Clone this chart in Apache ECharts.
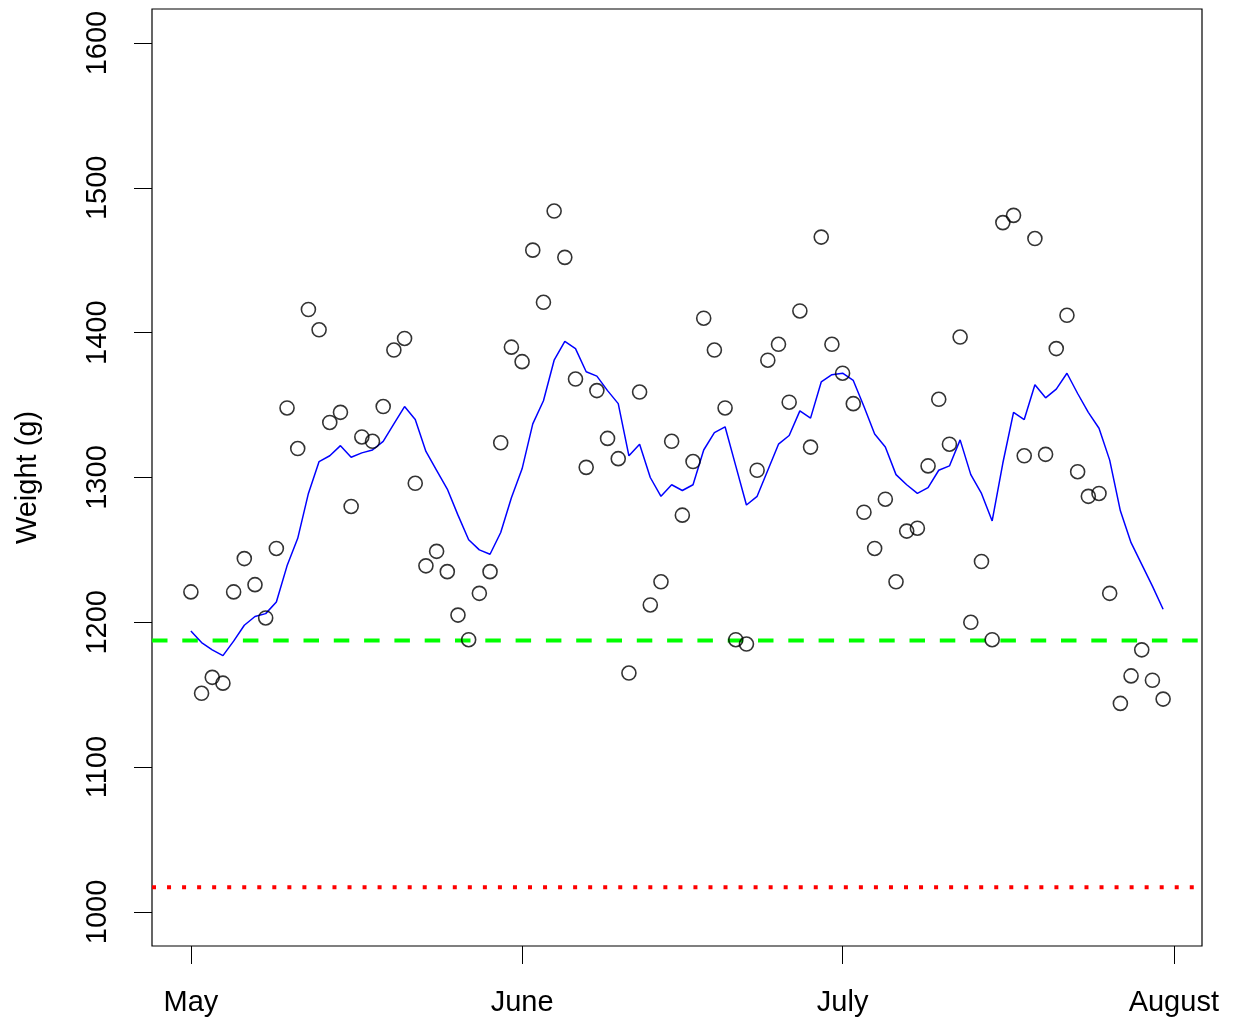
<!DOCTYPE html>
<html>
<head>
<meta charset="utf-8">
<script src="https://cdn.jsdelivr.net/npm/echarts@6/dist/echarts.min.js"></script>
<style>
html,body{margin:0;padding:0;background:#fff;}
#chart{width:1234px;height:1023px;}
</style>
</head>
<body>
<div id="chart"></div>
<script>
// Daily weights, 1 May (day 0) to 31 July (day 91)
const weights = [1221,1151,1162,1158,1221,1244,1226,1203,1251,1348,
  1320,1416,1402,1338,1345,1280,1328,1325,1349,1388,
  1396,1296,1239,1249,1235,1205,1188,1220,1235,1324,
  1390,1380,1457,1421,1484,1452,1368,1307,1360,1327,
  1313,1165,1359,1212,1228,1325,1274,1311,1410,1388,
  1348,1188,1185,1305,1381,1392,1352,1415,1321,1466,
  1392,1372,1351,1276,1251,1285,1228,1263,1265,1308,
  1354,1323,1397,1200,1242,1188,1476,1481,1315,1465,
  1316,1389,1412,1304,1287,1289,1220,1144,1163,1181,
  1160,1147];
// Smoothed (moving average) line
const smooth = [1194,1186,1181,1177,1187,1198,1204,1206,1214,1239,
  1258,1289,1311,1315,1322,1314,1317,1319,1325,1337,
  1349,1340,1318,1305,1292,1274,1257,1250,1247,1262,
  1286,1306,1337,1353,1381,1394,1389,1373,1370,1360,
  1351,1315,1323,1300,1287,1295,1291,1295,1319,1331,
  1335,1308,1281,1287,1305,1323,1329,1346,1341,1366,
  1371,1372,1367,1349,1330,1321,1302,1295,1289,1293,
  1305,1308,1326,1302,1289,1270,1310,1345,1340,1364,
  1355,1361,1372,1358,1345,1334,1312,1277,1255,1240,
  1225,1209];
const greenLevel = 1187.5;
const redLevel = 1017;
const monthTicks = [0, 31, 61, 92];
const monthLabels = ['May', 'June', 'July', 'August'];
const yTicks = [1000, 1100, 1200, 1300, 1400, 1500, 1600];

const pts = weights.map((w, i) => [i, w]);
const sm = smooth.map((w, i) => [i, w]);
const xMin = -3.64, xMax = 94.64;

const chart = echarts.init(document.getElementById('chart'), null, {renderer: 'canvas'});
const font = 'Liberation Sans, Arial, sans-serif';
chart.setOption({
  animation: false,
  backgroundColor: '#fff',
  grid: {left: 152, top: 9, width: 1050, height: 937, show: true,
         borderColor: '#000', borderWidth: 1.2, backgroundColor: 'transparent'},
  xAxis: {
    type: 'value', min: xMin, max: xMax,
    axisLine: {show: false, onZero: false},
    splitLine: {show: false},
    axisTick: {show: true, length: 18, customValues: monthTicks, lineStyle: {color: '#000', width: 1}},
    axisLabel: {customValues: monthTicks, margin: 42, fontSize: 29, fontFamily: font, color: '#000',
      formatter: v => monthLabels[monthTicks.indexOf(v)]}
  },
  yAxis: {
    type: 'value', min: 976.5, max: 1623.5,
    name: 'Weight (g)', nameLocation: 'middle', nameRotate: 90, nameGap: 110,
    nameMoveOverlap: false,
    nameTextStyle: {fontSize: 29, fontFamily: font, color: '#000'},
    axisLine: {show: false, onZero: false},
    splitLine: {show: false},
    axisTick: {show: true, length: 18, customValues: yTicks, lineStyle: {color: '#000', width: 1}},
    axisLabel: {customValues: yTicks, rotate: 90, margin: 40, fontSize: 29, fontFamily: font, color: '#000',
      formatter: v => String(v)}
  },
  series: [
    {
      type: 'line', data: [[xMin, greenLevel], [xMax, greenLevel]], symbol: 'none', z: 1,
      lineStyle: {color: '#00FF00', width: 4, type: [15.5, 14.8], cap: 'butt'}
    },
    {
      type: 'line', data: [[xMin, redLevel], [xMax, redLevel]], symbol: 'none', z: 1,
      lineStyle: {color: '#FF0000', width: 4, type: [4, 11.04], cap: 'butt'}
    },
    {
      type: 'line', data: sm, symbol: 'none', z: 2,
      lineStyle: {color: '#0000FF', width: 1.5}
    },
    {
      type: 'scatter', data: pts, symbol: 'circle', symbolSize: 14, z: 3,
      itemStyle: {color: 'transparent', borderColor: '#000', borderWidth: 1.6}
    }
  ]
});
</script>
</body>
</html>
